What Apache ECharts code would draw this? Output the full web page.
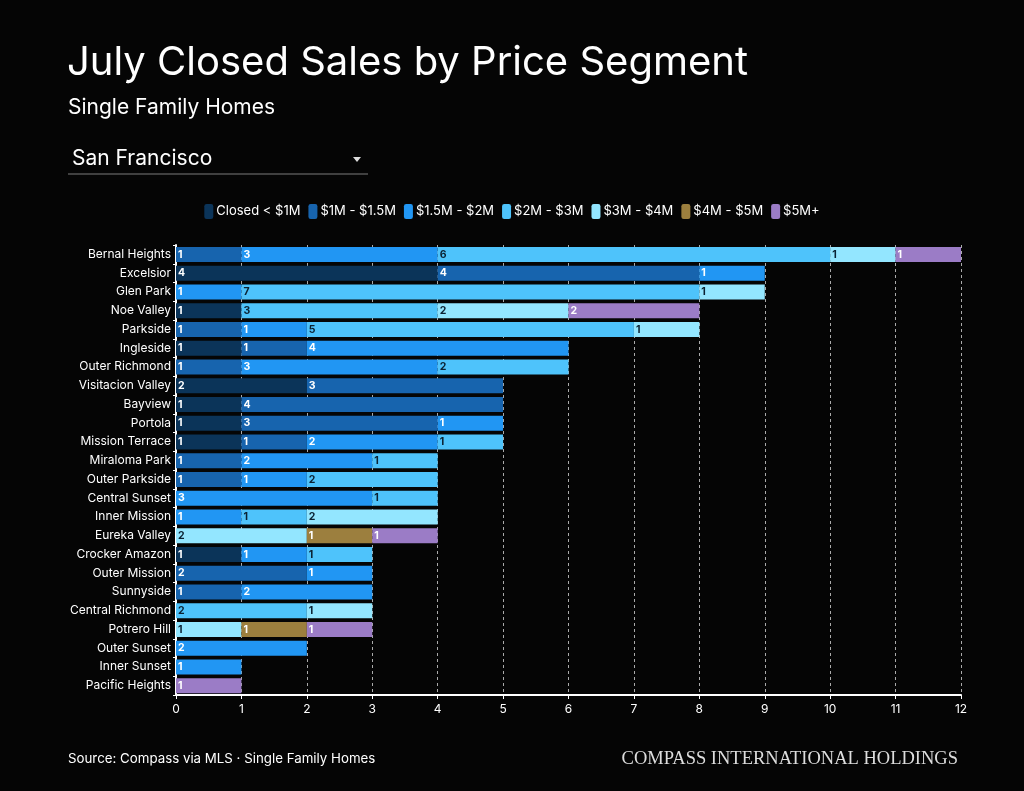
<!DOCTYPE html>
<html><head><meta charset="utf-8">
<script src="https://cdn.jsdelivr.net/npm/echarts@6/dist/echarts.min.js"></script>
<style>html,body{margin:0;padding:0;background:#050505;}#c{width:1024px;height:791px;}</style>
</head><body><div id="c"></div>
<script>
const categories = ['Bernal Heights','Excelsior','Glen Park','Noe Valley','Parkside','Ingleside','Outer Richmond','Visitacion Valley','Bayview','Portola','Mission Terrace','Miraloma Park','Outer Parkside','Central Sunset','Inner Mission','Eureka Valley','Crocker Amazon','Outer Mission','Sunnyside','Central Richmond','Potrero Hill','Outer Sunset','Inner Sunset','Pacific Heights'];
const seriesNames = ['Closed < $1M','$1M - $1.5M','$1.5M - $2M','$2M - $3M','$3M - $4M','$4M - $5M','$5M+'];
const under1M = [0,4,0,1,0,1,0,2,1,1,1,0,0,0,0,0,1,0,0,0,0,0,0,0];
const m1to15  = [1,4,0,0,1,1,1,3,4,3,1,1,1,0,0,0,0,2,1,0,0,0,0,0];
const m15to2  = [3,1,1,0,1,4,3,0,0,1,2,2,1,3,1,0,1,1,2,0,0,2,1,0];
const m2to3   = [6,0,7,3,5,0,2,0,0,0,1,1,2,1,1,0,1,0,0,2,0,0,0,0];
const m3to4   = [1,0,1,2,1,0,0,0,0,0,0,0,0,0,2,2,0,0,0,1,1,0,0,0];
const m4to5   = [0,0,0,0,0,0,0,0,0,0,0,0,0,0,0,1,0,0,0,0,1,0,0,0];
const m5plus  = [1,0,0,2,0,0,0,0,0,0,0,0,0,0,0,1,0,0,0,0,1,0,0,1];
const xTicks = [0,1,2,3,4,5,6,7,8,9,10,11,12];

const values = [under1M,m1to15,m15to2,m2to3,m3to4,m4to5,m5plus];
const colors = ['#0b3459','#1764ae','#2196f3','#4ec3fb','#93e6ff','#9c7f3e','#9b7cc6'];
const labelColors = ['#fff','#fff','#fff','#0b2233','#0b2233','#fff','#fff'];
const FONT = 'Inter';

const chart = echarts.init(document.getElementById('c'));
chart.setOption({
  backgroundColor: '#050505',
  textStyle: {fontFamily: FONT},
  title: [
    {text: 'July Closed Sales by Price Segment', left: 67, top: 43, padding: 0, textStyle: {color:'#fff', fontSize: 40, fontWeight: 'normal', fontFamily: FONT}},
    {text: 'Single Family Homes', left: 68, top: 97, padding: 0, textStyle: {color:'#fff', fontSize: 21, fontWeight: 'normal', fontFamily: FONT}},
    {text: 'San Francisco', left: 72, top: 148, padding: 0, textStyle: {color:'#fff', fontSize: 21, fontWeight: 'normal', fontFamily: FONT}},
    {text: 'Source: Compass via MLS · Single Family Homes', left: 68, top: 752, padding: 0, textStyle: {color:'#fff', fontSize: 13.3, fontWeight: 'normal', fontFamily: FONT}},
    {text: 'COMPASS INTERNATIONAL HOLDINGS', right: 66, top: 750, padding: 0, textStyle: {color:'#ddd', fontSize: 18.5, fontWeight: 'normal', fontFamily: 'Liberation Serif'}}
  ],
  graphic: [
    {type:'line', shape:{x1:68,y1:174,x2:368,y2:174}, style:{stroke:'#555', lineWidth:1.5}},
    {type:'polygon', shape:{points:[[353,157],[361,157],[357,162]]}, style:{fill:'#ddd'}}
  ],
  legend: {
    top: 199, left: 'center', itemWidth: 9, itemHeight: 15, itemGap: 8, icon: 'roundRect',
    textStyle: {color:'#fff', fontSize: 13, fontFamily: FONT, padding:[0,0,0,-2]},
    data: seriesNames
  },
  grid: {left: 176, right: 63, top: 245, bottom: 96, containLabel: false},
  xAxis: {
    type: 'value', min: 0, max: 12, interval: 1,
    axisLine: {show: true, lineStyle: {color:'#fff', width: 2}},
    axisTick: {show: true, length: 4, lineStyle: {color:'#fff'}},
    axisLabel: {color:'#fff', fontSize: 12, margin: 8, formatter: v => xTicks.includes(v) ? String(v) : ''},
    splitLine: {show: true, lineStyle: {color:'#aaa', type:[3,3], width: 1}}
  },
  yAxis: {
    type: 'category', data: categories, inverse: true,
    axisLine: {show: true, lineStyle: {color:'#fff', width: 2}},
    axisTick: {show: true, length: 3, lineStyle: {color:'#fff'}},
    axisLabel: {color:'#fff', fontSize: 12, margin: 5}
  },
  series: seriesNames.map((name, i) => ({
    name, type: 'bar', stack: 'total', barCategoryGap: '20%',
    itemStyle: {color: colors[i]},
    label: {show: true, position: 'insideLeft', distance: 2, color: labelColors[i], fontSize: 10.5, fontWeight: 'bold',
      formatter: p => p.value ? String(p.value) : ''},
    data: values[i].map(v => v === 0 ? null : v)
  }))
});
</script></body></html>
